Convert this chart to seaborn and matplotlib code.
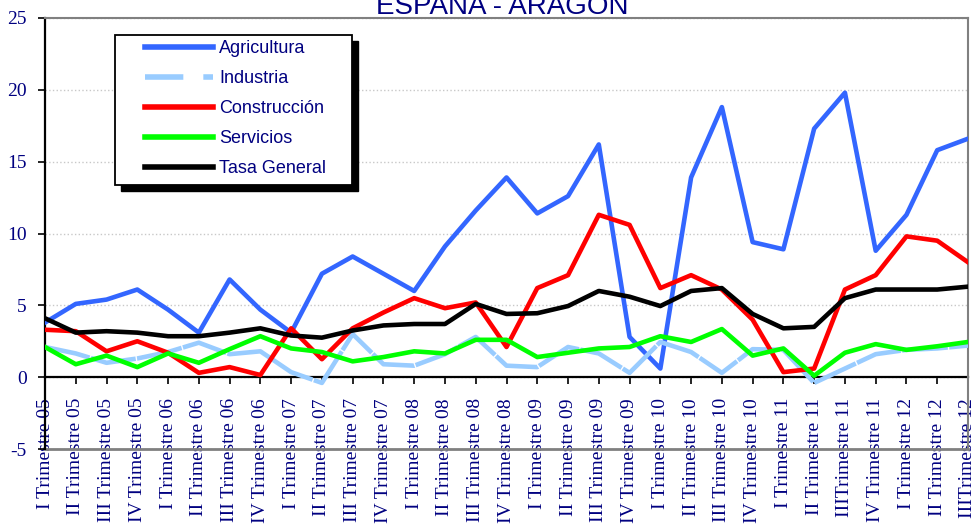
import matplotlib
matplotlib.use("Agg")
import matplotlib.pyplot as plt
from matplotlib.patches import Rectangle
from matplotlib.lines import Line2D
import seaborn as sns
import pandas as pd
import numpy as np

categories = [
    "I Trimestre 05", "II Trimestre 05", "III Trimestre 05", "IV Trimestre 05",
    "I Trimestre 06", "II Trimestre 06", "III Trimestre 06", "IV Trimestre 06",
    "I Trimestre 07", "II Trimestre 07", "III Trimestre 07", "IV Trimestre 07",
    "I Trimestre 08", "II Trimestre 08", "III Trimestre 08", "IV Trimestre 08",
    "I Trimestre 09", "II Trimestre 09", "III Trimestre 09", "IV Trimestre 09",
    "I Trimestre 10", "II Trimestre 10", "III Trimestre 10", "IV Trimestre 10",
    "I Trimestre 11", "II Trimestre 11", "IIITrimestre 11", "IV Trimestre 11",
    "I Trimestre 12", "II Trimestre 12", "IIITrimestre 12",
]

agricultura = [3.8, 5.1, 5.4, 6.1, 4.7, 3.1, 6.8, 4.7, 3.1, 7.2, 8.4, 7.2, 6.0, 9.1, 11.6, 13.9,
               11.4, 12.6, 16.2, 2.8, 0.6, 13.9, 18.8, 9.4, 8.9, 17.3, 19.8, 8.8, 11.3, 15.8, 16.6]
industria = [2.1, 1.65, 1.0, 1.3, 1.75, 2.4, 1.6, 1.8, 0.35, -0.4, 3.0, 0.9, 0.8, 1.6, 2.8, 0.8,
             0.7, 2.1, 1.65, 0.3, 2.45, 1.75, 0.3, 1.95, 1.9, -0.4, 0.6, 1.6, 1.9, 2.0, 2.2]
construccion = [3.3, 3.2, 1.8, 2.5, 1.7, 0.3, 0.7, 0.15, 3.4, 1.25, 3.4, 4.5, 5.5, 4.8, 5.2, 2.1,
                6.2, 7.1, 11.3, 10.6, 6.2, 7.1, 6.1, 4.0, 0.35, 0.6, 6.1, 7.1, 9.8, 9.5, 8.0]
servicios = [2.1, 0.9, 1.5, 0.7, 1.65, 1.0, 1.95, 2.85, 2.0, 1.75, 1.1, 1.4, 1.8, 1.65, 2.6, 2.6,
             1.4, 1.7, 2.0, 2.1, 2.85, 2.45, 3.35, 1.5, 2.0, 0.1, 1.7, 2.3, 1.9, 2.15, 2.45]
tasa_general = [4.1, 3.1, 3.2, 3.1, 2.85, 2.85, 3.1, 3.4, 2.9, 2.75, 3.25, 3.6, 3.7, 3.7, 5.1, 4.4,
                4.45, 4.95, 6.0, 5.6, 4.95, 6.0, 6.2, 4.4, 3.4, 3.5, 5.5, 6.1, 6.1, 6.1, 6.3]

series_names = ["Agricultura", "Industria", "Construcción", "Servicios", "Tasa General"]
series_values = [agricultura, industria, construccion, servicios, tasa_general]
colors = {"Agricultura": "#3366FF", "Industria": "#99CCFF", "Construcción": "#FF0000",
          "Servicios": "#00FF00", "Tasa General": "#000000"}
dashes = {"Agricultura": "", "Industria": (10, 0.3), "Construcción": "",
          "Servicios": "", "Tasa General": ""}

rows = []
for name, vals in zip(series_names, series_values):
    for i, v in enumerate(vals):
        rows.append({"idx": i, "serie": name, "valor": v})
df = pd.DataFrame(rows)

navy = "#000080"
W, H = 976, 525
fig = plt.figure(figsize=(W / 100, H / 100), dpi=100)
ax = fig.add_axes([45 / W, 1 - 449 / H, (968 - 45) / W, (449 - 18) / H])

# spine positions first (set_position resets the ticks)
ax.spines["bottom"].set_position(("data", 0))
ax.spines["bottom"].set_color("black")
ax.spines["bottom"].set_linewidth(1.6)
ax.spines["bottom"].set_zorder(2)
ax.spines["left"].set_color("black")
ax.spines["left"].set_linewidth(1.6)
ax.spines["top"].set_color("#808080")
ax.spines["top"].set_linewidth(1.5)
ax.spines["right"].set_color("#808080")
ax.spines["right"].set_linewidth(1.5)

sns.lineplot(data=df, x="idx", y="valor", hue="serie", style="serie",
             hue_order=series_names, style_order=series_names,
             palette=colors, dashes=dashes, linewidth=3.3, legend=False,
             sort=False, ax=ax, zorder=3)

ax.set_xlim(0, 30)
ax.set_ylim(-5, 25)
ax.set_xlabel("")
ax.set_ylabel("")

ax.set_yticks([-5, 0, 5, 10, 15, 20, 25])
ax.set_yticklabels(["-5", "0", "5", "10", "15", "20", "25"],
                   fontfamily="Liberation Serif", fontsize=14, color=navy)
ax.set_xticks(range(len(categories)))
ax.set_xticklabels(categories, rotation=90, fontfamily="Liberation Serif",
                   fontsize=14, color=navy)
ax.tick_params(axis="x", direction="out", length=5, width=1.2, color="black", pad=10)
ax.tick_params(axis="y", direction="out", length=5, width=1.2, color="black", pad=8)

ax.set_axisbelow(True)
ax.yaxis.grid(True, color="#C8C8C8", linestyle=":", linewidth=1)
ax.xaxis.grid(False)
ax.axhline(-5, color="#808080", linewidth=2, clip_on=False, zorder=1)

# title (top partly cut off, as in reference)
fig.text(502 / W, 1 - 14 / H, "ESPAÑA - ARAGÓN", ha="center", va="baseline",
         fontfamily="Liberation Sans", fontsize=20, color=navy)

# legend frame with black shadow
lx0, ly0, lx1, ly1 = 115, 35, 352, 185
fig.add_artist(Rectangle(((lx0 + 6) / W, 1 - (ly1 + 6) / H), (lx1 - lx0) / W, (ly1 - ly0) / H,
                         transform=fig.transFigure, facecolor="black", edgecolor="black",
                         zorder=4))
fig.add_artist(Rectangle((lx0 / W, 1 - ly1 / H), (lx1 - lx0) / W, (ly1 - ly0) / H,
                         transform=fig.transFigure, facecolor="white", edgecolor="black",
                         linewidth=1.3, zorder=4.5))

handles = []
for name in series_names:
    if dashes[name]:
        h = Line2D([0], [0], color=colors[name], linewidth=4,
                   dashes=(6.9, 3.6, 2.2, 10))
    else:
        h = Line2D([0], [0], color=colors[name], linewidth=4)
    handles.append(h)
leg = fig.legend(handles, series_names, loc="upper left",
                 bbox_to_anchor=(145 / W, 1 - 40 / H), bbox_transform=fig.transFigure,
                 frameon=False, borderpad=0, borderaxespad=0, handlelength=3.75,
                 handletextpad=0.35, labelspacing=0.72,
                 prop={"family": "Liberation Sans", "size": 13})
leg.set_zorder(6)
for t in leg.get_texts():
    t.set_color(navy)

fig.savefig("out.png", dpi=100)
